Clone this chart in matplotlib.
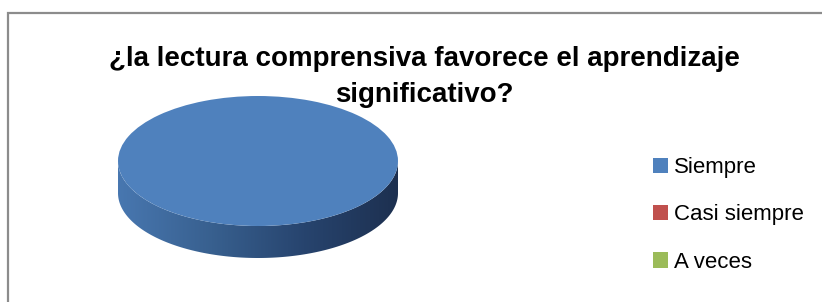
import numpy as np
import matplotlib.pyplot as plt
from matplotlib.patches import Rectangle, Polygon
from matplotlib.colors import LinearSegmentedColormap

# data
labels = ['Siempre', 'Casi siempre', 'A veces']
values = [100, 0, 0]
colors = ['#4f81bd', '#c0504d', '#9bbb59']
title = '¿la lectura comprensiva favorece el aprendizaje\nsignificativo?'

plt.rcParams['font.family'] = ['Liberation Sans Narrow', 'Liberation Sans', 'DejaVu Sans']

W, H = 822, 302
fig = plt.figure(figsize=(W / 100, H / 100), dpi=100)

# chart frame
fig.patches.append(Rectangle((8 / W, -0.1), 1.2, (H - 13) / H + 0.1,
                             transform=fig.transFigure, fill=False,
                             edgecolor='#8c8c8c', linewidth=1.6, clip_on=False))

# pie axes: top ellipse + side thickness
rx, ry, depth = 140, 65, 32
left, top = 118, 96
ax = fig.add_axes([left / W, (H - top - 2 * ry - depth) / H, 2 * rx / W, (2 * ry + depth) / H])
t = depth / ry

wedges, _ = ax.pie(values, colors=colors, startangle=90, counterclock=False,
                   wedgeprops=dict(linewidth=0, zorder=3))
ax.set_aspect('auto')
ax.set_xlim(-1, 1)
ax.set_ylim(-1 - t, 1)
ax.axis('off')

# side wall with gradient
th = np.linspace(np.pi, 2 * np.pi, 200)
pts = np.column_stack([np.cos(th), np.sin(th)])
side = np.vstack([pts, (pts - [0, t])[::-1]])
poly = Polygon(side, closed=True, facecolor='none', edgecolor='none')
ax.add_patch(poly)
cmap = LinearSegmentedColormap.from_list('side', ['#4877b0', '#38608f', '#27446e', '#1d3050'])
grad = np.linspace(0, 1, 256).reshape(1, -1)
im = ax.imshow(grad, cmap=cmap, extent=[-1, 1, -1 - t, 0], aspect='auto', zorder=1)
im.set_clip_path(poly)

# title
fig.text(424 / W, (H - 77) / H, title, ha='center', va='center', fontsize=20,
         fontweight='bold', linespacing=1.5, color='#000000')

# legend
fig.legend(wedges, labels, loc='upper left', bbox_to_anchor=(653 / W, (H - 157) / H),
           frameon=False, fontsize=16, handlelength=0.68, handleheight=0.68,
           handletextpad=0.25, labelspacing=1.19, borderpad=0, borderaxespad=0)

fig.savefig('out.png', dpi=100)
